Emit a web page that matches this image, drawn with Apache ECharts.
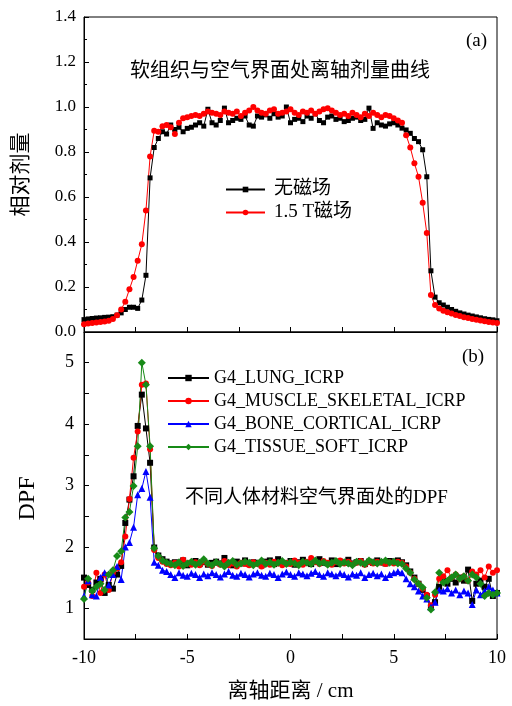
<!DOCTYPE html>
<html>
<head>
<meta charset="utf-8">
<script src="https://cdn.jsdelivr.net/npm/echarts@6/dist/echarts.min.js"></script>
<style>
html, body { margin: 0; padding: 0; background: #fff; }
#main { width: 512px; height: 706px; }
</style>
</head>
<body>
<div id="main"></div>
<script>
// x positions: -10 .. 10 cm, step 0.2
var xStart = -10, xStep = 0.2;

// (a) relative dose, no field / 1.5 T field
var doseNoField = [
    0.055, 0.058, 0.060, 0.062, 0.063, 0.065, 0.066, 0.068, 0.075, 0.085,
    0.100, 0.110, 0.110, 0.105, 0.142, 0.252, 0.685, 0.820, 0.860, 0.890,
    0.880, 0.920, 0.900, 0.910, 0.890, 0.905, 0.910, 0.920, 0.930, 0.915,
    0.990, 0.930, 0.920, 0.940, 0.995, 0.930, 0.940, 0.950, 0.945, 0.960,
    0.920, 0.915, 0.960, 0.955, 0.965, 0.950, 0.970, 0.955, 0.960, 1.000,
    0.930, 0.945, 0.950, 0.935, 0.960, 0.950, 0.970, 0.940, 0.930, 0.955,
    0.960, 0.945, 0.950, 0.935, 0.940, 0.950, 0.955, 0.940, 0.945, 0.995,
    0.905, 0.930, 0.920, 0.915, 0.925, 0.930, 0.920, 0.906, 0.898, 0.883,
    0.860, 0.846, 0.810, 0.690, 0.272, 0.155, 0.130, 0.120, 0.110, 0.100,
    0.092, 0.085, 0.080, 0.075, 0.071, 0.067, 0.063, 0.059, 0.056, 0.054,
    0.050
];
var doseField = [
    0.035, 0.038, 0.040, 0.042, 0.045, 0.047, 0.050, 0.058, 0.075, 0.100,
    0.135, 0.190, 0.244, 0.317, 0.390, 0.540, 0.780, 0.895, 0.890, 0.915,
    0.920, 0.910, 0.880, 0.930, 0.950, 0.955, 0.960, 0.965, 0.960, 0.970,
    0.980, 0.975, 0.970, 0.965, 0.980, 0.975, 0.970, 0.980, 0.960, 0.975,
    0.985, 1.000, 0.985, 0.975, 0.970, 0.985, 0.990, 0.970, 0.975, 0.980,
    0.990, 0.975, 0.965, 0.980, 0.975, 0.985, 0.970, 0.980, 0.990, 0.995,
    0.985, 0.975, 0.965, 0.970, 0.960, 0.975, 0.965, 0.955, 0.970, 0.960,
    0.975, 0.965, 0.955, 0.965, 0.960, 0.950, 0.940, 0.930, 0.875, 0.820,
    0.750, 0.690, 0.575, 0.440, 0.164, 0.120, 0.105, 0.095, 0.088, 0.082,
    0.076, 0.071, 0.066, 0.062, 0.058, 0.055, 0.051, 0.048, 0.045, 0.042,
    0.040
];

// (b) DPF for four materials
var dpfLung = [
    1.50, 1.38, 1.30, 1.42, 1.48, 1.25, 1.38, 1.32, 1.55, 1.69,
    2.39, 2.77, 3.15, 3.97, 4.48, 3.93, 3.37, 1.99, 1.86, 1.80,
    1.76, 1.73, 1.75, 1.72, 1.78, 1.70, 1.74, 1.77, 1.72, 1.75,
    1.71, 1.74, 1.76, 1.73, 1.82, 1.74, 1.70, 1.76, 1.73, 1.78,
    1.72, 1.75, 1.74, 1.70, 1.76, 1.78, 1.72, 1.80, 1.74, 1.73,
    1.77, 1.71, 1.75, 1.79, 1.74, 1.72, 1.76, 1.80, 1.74, 1.73,
    1.78, 1.72, 1.76, 1.74, 1.79, 1.73, 1.75, 1.77, 1.72, 1.76,
    1.74, 1.78, 1.75, 1.73, 1.77, 1.76, 1.78, 1.75, 1.70, 1.60,
    1.50, 1.40, 1.30, 1.20, 1.02, 1.10, 1.35, 1.45, 1.40, 1.48,
    1.42, 1.50, 1.45, 1.63, 1.12, 1.40, 1.45, 1.35, 1.48, 1.20,
    1.25
];
var dpfMuscle = [
    1.35, 1.42, 1.20, 1.58, 1.25, 1.55, 1.30, 1.58, 1.65, 1.75,
    2.17, 2.78, 3.45, 3.88, 4.64, 4.66, 3.59, 1.95, 1.82, 1.76,
    1.72, 1.70, 1.74, 1.68, 1.79, 1.73, 1.71, 1.75, 1.70, 1.76,
    1.72, 1.69, 1.74, 1.71, 1.77, 1.70, 1.73, 1.68, 1.74, 1.72,
    1.70, 1.75, 1.72, 1.68, 1.74, 1.71, 1.76, 1.73, 1.70, 1.74,
    1.72, 1.78, 1.74, 1.71, 1.76, 1.82, 1.75, 1.72, 1.77, 1.74,
    1.71, 1.75, 1.78, 1.73, 1.76, 1.72, 1.74, 1.77, 1.71, 1.75,
    1.73, 1.76, 1.74, 1.72, 1.75, 1.73, 1.76, 1.74, 1.68, 1.58,
    1.48, 1.40, 1.32, 1.22, 1.05, 1.22, 1.48, 1.52, 1.62, 1.50,
    1.55, 1.48, 1.52, 1.45, 1.60, 1.55, 1.62, 1.50, 1.68, 1.58,
    1.62
];
var dpfBone = [
    1.20, 1.45, 1.22, 1.20, 1.50, 1.58, 1.38, 1.55, 1.68, 1.47,
    2.00, 2.07, 2.32, 2.85, 2.95, 3.23, 2.81, 1.75, 1.70, 1.62,
    1.60, 1.55, 1.50, 1.58, 1.54, 1.52, 1.57, 1.55, 1.50, 1.56,
    1.53, 1.58, 1.55, 1.51, 1.56, 1.60, 1.54, 1.52, 1.57, 1.55,
    1.51, 1.56, 1.58, 1.54, 1.52, 1.57, 1.55, 1.50, 1.56, 1.59,
    1.55, 1.52, 1.58, 1.56, 1.53, 1.57, 1.60, 1.55, 1.52, 1.58,
    1.56, 1.53, 1.57, 1.55, 1.51, 1.56, 1.54, 1.58, 1.50, 1.55,
    1.57, 1.53, 1.56, 1.50, 1.55, 1.58, 1.60, 1.58, 1.48, 1.40,
    1.35, 1.28, 1.20, 1.15, 1.02, 1.10, 1.30, 1.28, 1.32, 1.25,
    1.30, 1.22, 1.28, 1.25, 1.06, 1.30, 1.22, 1.28, 1.35, 1.30,
    1.25
];
var dpfTissue = [
    1.15, 1.48, 1.28, 1.35, 1.40, 1.30, 1.55, 1.62, 1.85, 1.93,
    2.48, 2.57, 2.99, 3.64, 5.00, 4.64, 3.64, 1.98, 1.85, 1.78,
    1.74, 1.72, 1.70, 1.75, 1.69, 1.73, 1.76, 1.71, 1.74, 1.80,
    1.73, 1.70, 1.75, 1.72, 1.68, 1.74, 1.77, 1.71, 1.73, 1.76,
    1.74, 1.70, 1.73, 1.78, 1.72, 1.75, 1.71, 1.74, 1.77, 1.72,
    1.75, 1.73, 1.70, 1.76, 1.74, 1.72, 1.78, 1.73, 1.75, 1.71,
    1.74, 1.77, 1.72, 1.75, 1.73, 1.70, 1.76, 1.74, 1.72, 1.78,
    1.75, 1.73, 1.76, 1.78, 1.74, 1.76, 1.73, 1.72, 1.65, 1.58,
    1.47, 1.40, 1.34, 1.17, 0.98, 1.26, 1.58, 1.42, 1.45, 1.50,
    1.55, 1.48, 1.52, 1.45, 1.55, 1.50, 1.40, 1.20, 1.25, 1.22,
    1.25
];

var topNames = ['无磁场', '1.5 T磁场'];
var bottomNames = ['G4_LUNG_ICRP', 'G4_MUSCLE_SKELETAL_ICRP', 'G4_BONE_CORTICAL_ICRP', 'G4_TISSUE_SOFT_ICRP'];

var serif = "'Liberation Serif', 'Times New Roman', 'Noto Sans CJK SC', serif";

function pairs(arr) {
    return arr.map(function (v, i) {
        return [+(xStart + i * xStep).toFixed(1), v];
    });
}

function lineSeries(name, data, color, symbol, size, idx) {
    return {
        name: name,
        type: 'line',
        xAxisIndex: idx,
        yAxisIndex: idx,
        data: pairs(data),
        symbol: symbol,
        symbolSize: size,
        itemStyle: { color: color },
        lineStyle: { color: color, width: 1 },
        emphasis: { disabled: true }
    };
}

var myChart = echarts.init(document.getElementById('main'));

var xBase = {
    type: 'value',
    min: -10,
    max: 10,
    interval: 2.5,
    axisLine: { onZero: false, lineStyle: { color: '#000', width: 1 } },
    axisTick: { inside: true, length: 5, lineStyle: { color: '#000' } },
    splitLine: { show: false }
};

option = {
    animation: false,
    backgroundColor: '#fff',
    textStyle: { fontFamily: serif, color: '#000' },
    grid: [
        { left: 84, top: 17, width: 413, height: 315, show: true, borderColor: '#000', borderWidth: 1 },
        { left: 84, top: 332, width: 413, height: 307, show: true, borderColor: '#000', borderWidth: 1 }
    ],
    legend: [{
        data: topNames,
        orient: 'vertical',
        left: 220,
        top: 175,
        itemWidth: 39,
        itemHeight: 7,
        itemGap: 4,
        textStyle: { fontFamily: serif, fontSize: 19, color: '#000', padding: [0, 0, 0, 4] }
    }, {
        data: bottomNames,
        orient: 'vertical',
        left: 162,
        top: 364,
        itemWidth: 41,
        itemHeight: 8,
        itemGap: 5,
        textStyle: { fontFamily: serif, fontSize: 18, color: '#000' }
    }],
    xAxis: [
        Object.assign({}, xBase, {
            gridIndex: 0,
            axisLabel: { show: false }
        }),
        Object.assign({}, xBase, {
            gridIndex: 1,
            name: '离轴距离 / cm',
            nameLocation: 'middle',
            nameGap: 42,
            nameTextStyle: { fontFamily: serif, fontSize: 21, color: '#000' },
            axisLabel: {
                margin: 10,
                fontFamily: serif,
                fontSize: 18,
                color: '#000',
                formatter: function (v) { return v % 5 === 0 ? String(v) : ''; }
            }
        })
    ],
    yAxis: [{
        type: 'value',
        gridIndex: 0,
        min: 0,
        max: 1.4,
        interval: 0.2,
        name: '相对剂量',
        nameLocation: 'middle',
        nameGap: 52,
        nameTextStyle: { fontFamily: serif, fontSize: 21, color: '#000' },
        axisLine: { show: true, onZero: false, lineStyle: { color: '#000' } },
        axisTick: { inside: true, length: 5, lineStyle: { color: '#000' } },
        minorTick: { show: true, splitNumber: 2, length: 3, lineStyle: { color: '#000' } },
        splitLine: { show: false },
        axisLabel: {
            margin: 8,
            fontFamily: serif,
            fontSize: 17,
            color: '#000',
            formatter: function (v) { return v.toFixed(1); }
        }
    }, {
        type: 'value',
        gridIndex: 1,
        min: 0.5,
        max: 5.5,
        interval: 0.5,
        name: 'DPF',
        nameLocation: 'middle',
        nameGap: 44,
        nameTextStyle: { fontFamily: serif, fontSize: 24, color: '#000', padding: [0, 26, 0, 0] },
        axisLine: { show: true, onZero: false, lineStyle: { color: '#000' } },
        axisTick: { inside: true, length: 5, lineStyle: { color: '#000' } },
        splitLine: { show: false },
        axisLabel: {
            margin: 10,
            fontFamily: serif,
            fontSize: 18,
            color: '#000',
            formatter: function (v) { return Math.abs(v - Math.round(v)) < 1e-6 ? String(Math.round(v)) : ''; }
        }
    }],
    graphic: [
        { type: 'text', left: 130, top: 62, style: { text: '软组织与空气界面处离轴剂量曲线', font: "20px " + serif, fill: '#000' } },
        { type: 'text', left: 466, top: 32, style: { text: '(a)', font: "19px " + serif, fill: '#000' } },
        { type: 'text', left: 185, top: 489, style: { text: '不同人体材料空气界面处的DPF', font: "19px " + serif, fill: '#000' } },
        { type: 'text', left: 462, top: 348, style: { text: '(b)', font: "19px " + serif, fill: '#000' } }
    ],
    series: [
        lineSeries(topNames[0], doseNoField, '#000000', 'rect', 5, 0),
        lineSeries(topNames[1], doseField, '#ff0000', 'circle', 6, 0),
        lineSeries(bottomNames[0], dpfLung, '#000000', 'rect', 6, 1),
        lineSeries(bottomNames[1], dpfMuscle, '#ff0000', 'circle', 6, 1),
        lineSeries(bottomNames[2], dpfBone, '#0000ff', 'triangle', 7, 1),
        lineSeries(bottomNames[3], dpfTissue, '#178a17', 'diamond', 8, 1)
    ]
};

myChart.setOption(option);
</script>
</body>
</html>
